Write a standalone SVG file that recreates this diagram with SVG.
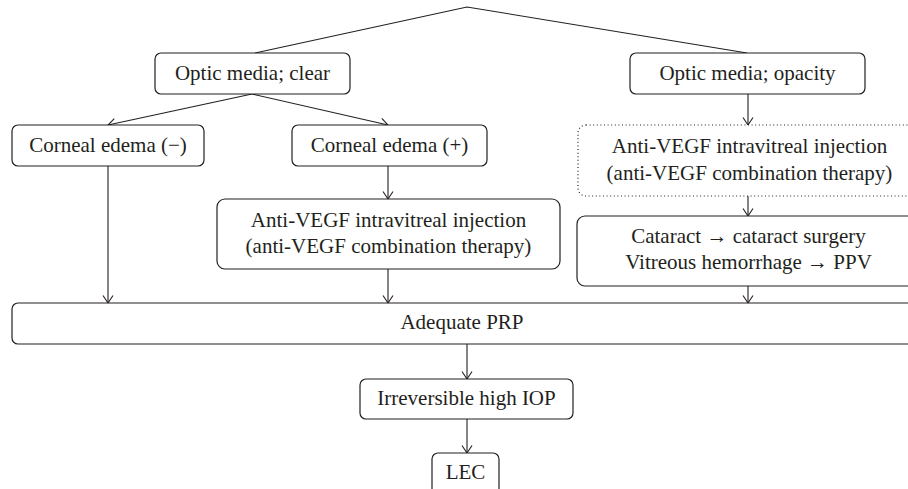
<svg xmlns="http://www.w3.org/2000/svg" width="908" height="489" viewBox="0 0 908 489">
<style>
.box{fill:#fff;stroke:#231f20;stroke-width:1.2}
.dot{fill:#fff;stroke:#231f20;stroke-width:1.2;stroke-dasharray:1 2.6}
.t{font-family:'Liberation Serif',serif;font-size:21px;fill:#231f20;text-anchor:middle}
.c{fill:none;stroke:#231f20;stroke-width:1.1}
.h{fill:none;stroke:#231f20;stroke-width:1.1}
</style>
<defs>
<marker id="ah" markerUnits="userSpaceOnUse" markerWidth="16" markerHeight="16" viewBox="-9 -8 12 16" refX="0" refY="0" orient="auto">
<path class="h" d="M-7.5,-5 L0,0 L-7.5,5"/>
</marker>
</defs>
<rect width="908" height="489" fill="#fff"/>
<g id="connectors">
<polyline class="c" points="255,53 467,7 747,53"/>
<line class="c" x1="252" y1="94" x2="108" y2="125" marker-end="url(#ah)"/>
<line class="c" x1="252" y1="94" x2="388" y2="125" marker-end="url(#ah)"/>
<line class="c" x1="108" y1="166" x2="108" y2="303" marker-end="url(#ah)"/>
<line class="c" x1="388" y1="166" x2="388" y2="199" marker-end="url(#ah)"/>
<line class="c" x1="388" y1="269" x2="388" y2="303" marker-end="url(#ah)"/>
<line class="c" x1="748" y1="94" x2="748" y2="125" marker-end="url(#ah)"/>
<line class="c" x1="748" y1="196" x2="748" y2="216" marker-end="url(#ah)"/>
<line class="c" x1="748" y1="286" x2="748" y2="303" marker-end="url(#ah)"/>
<line class="c" x1="467" y1="344" x2="467" y2="379" marker-end="url(#ah)"/>
<line class="c" x1="467" y1="419" x2="467" y2="453" marker-end="url(#ah)"/>
</g>
<g id="clear">
<rect class="box" x="155" y="53" width="195" height="41" rx="6"/>
<text class="t" x="252.5" y="80">Optic media; clear</text>
</g>
<g id="opacity">
<rect class="box" x="630" y="53" width="235" height="41" rx="6"/>
<text class="t" x="747.5" y="80">Optic media; opacity</text>
</g>
<g id="edema-neg">
<rect class="box" x="12" y="125" width="192" height="41" rx="6"/>
<text class="t" x="108" y="152">Corneal edema (−)</text>
</g>
<g id="edema-pos">
<rect class="box" x="292" y="125" width="195" height="41" rx="6"/>
<text class="t" x="389.5" y="152">Corneal edema (+)</text>
</g>
<g id="antivegf-left">
<rect class="box" x="217" y="199" width="343" height="70" rx="8"/>
<text class="t" x="388.5" y="227">Anti-VEGF intravitreal injection</text>
<text class="t" x="388.5" y="253">(anti-VEGF combination therapy)</text>
</g>
<g id="antivegf-right">
<rect class="dot" x="578" y="125" width="345" height="71" rx="8"/>
<text class="t" x="749.5" y="153">Anti-VEGF intravitreal injection</text>
<text class="t" x="749.5" y="180">(anti-VEGF combination therapy)</text>
</g>
<g id="cataract">
<rect class="box" x="577" y="216" width="345" height="70" rx="8"/>
<text class="t" x="748.5" y="243">Cataract → cataract surgery</text>
<text class="t" x="748.5" y="269">Vitreous hemorrhage → PPV</text>
</g>
<g id="prp">
<rect class="box" x="12" y="303" width="910" height="41" rx="6"/>
<text class="t" x="462" y="329">Adequate PRP</text>
</g>
<g id="iop">
<rect class="box" x="360" y="379" width="213" height="40" rx="6"/>
<text class="t" x="466.5" y="405">Irreversible high IOP</text>
</g>
<g id="lec">
<rect class="box" x="432" y="453" width="67" height="50" rx="6"/>
<text class="t" x="465.5" y="479">LEC</text>
</g>
</svg>
